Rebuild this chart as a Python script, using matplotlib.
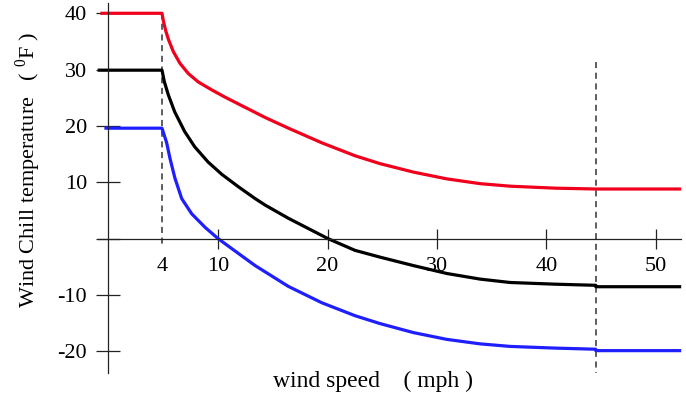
import matplotlib

matplotlib.use("Agg")
import matplotlib.pyplot as plt
import numpy as np

# values (wind speed in mph, wind chill in deg F)
red_speed = [-0.6, 4.0, 4.15, 4.4, 4.68, 5.21, 5.93, 6.82, 7.89, 9.33, 10.65, 12.17, 13.39, 14.3, 16.43,
             19.48, 22.52, 24.8, 27.85, 30.89, 33.94, 36.68, 40.78, 44.5, 52.3]
red_chill = [40.0, 40.0, 38.6, 36.9, 35.4, 33.2, 31.1, 29.3, 27.8, 26.4, 25.1, 23.6, 22.4, 21.5, 19.6,
             17.0, 14.7, 13.3, 11.8, 10.6, 9.75, 9.3, 8.95, 8.8, 8.8]

black_speed = [-0.8, 4.0, 4.25, 4.68, 5.36, 6.43, 7.5, 8.93, 10.35, 11.86, 13.39, 14.3, 16.43,
               20.03, 22.52, 24.8, 27.85, 30.89, 33.94, 36.68, 40.78, 44.5, 44.5, 52.3]
black_chill = [29.9, 29.9, 27.85, 25.5, 22.5, 19.0, 16.3, 13.6, 11.4, 9.2, 7.1, 5.95, 3.6,
               0.0, -2.1, -3.3, -4.8, -6.2, -7.2, -7.8, -8.1, -8.3, -8.55, -8.55]

blue_speed = [-0.3, 4.0, 4.5, 4.86, 5.39, 6.11, 7.18, 8.61, 10.0, 10.95, 13.39, 16.43, 19.48,
              22.52, 24.8, 27.85, 30.89, 33.94, 36.68, 40.78, 44.5, 44.5, 52.3]
blue_chill = [19.6, 19.6, 17.0, 14.2, 10.7, 7.1, 4.4, 2.0, 0.0, -1.35, -4.8, -8.5, -11.4,
              -13.7, -15.1, -16.7, -17.9, -18.7, -19.15, -19.45, -19.65, -19.9, -19.9]

x_ticks = [4, 10, 20, 30, 40, 50]
y_ticks = [-20, -10, 0, 10, 20, 30, 40]
y_tick_labels = ["-20", "-10", "", "10", "20", "30", "40"]

calm_speed = 4.0
cap_speed = 44.5

# the drawing's wind-speed axis is not evenly spaced: 0-4, 4-10 and 10-50 have their own spacing
speed_knots = np.array([0.0, 4.0, 10.0, 50.0])
axis_knots = np.array([0.0, 53.6, 109.6, 547.6])


def _piecewise(values, src, dst):
    values = np.asarray(values, dtype=float)
    out = np.interp(values, src, dst)
    low = values < src[0]
    high = values > src[-1]
    slope_low = (dst[1] - dst[0]) / (src[1] - src[0])
    slope_high = (dst[-1] - dst[-2]) / (src[-1] - src[-2])
    out[low] = dst[0] + (values[low] - src[0]) * slope_low
    out[high] = dst[-1] + (values[high] - src[-1]) * slope_high
    return out


def speed_forward(values):
    return _piecewise(values, speed_knots, axis_knots)


def speed_inverse(values):
    return _piecewise(values, axis_knots, speed_knots)


def main() -> None:
    plt.rcParams["font.family"] = "Liberation Serif"
    plt.rcParams["mathtext.fontset"] = "custom"
    plt.rcParams["mathtext.rm"] = "Liberation Serif"

    fig = plt.figure(figsize=(6.86, 3.94), dpi=100)
    ax = fig.add_axes([0, 0, 1, 1])
    ax.set_xscale("function", functions=(speed_forward, speed_inverse))
    ax.set_xlim(-8.09, 52.74)
    ax.set_ylim(-27.6, 42.36)

    for side in ("top", "right"):
        ax.spines[side].set_visible(False)
    ax.spines["left"].set_position(("data", 0))
    ax.spines["bottom"].set_position(("data", 0))
    ax.spines["left"].set_bounds(-23.8, 41.8)
    ax.spines["bottom"].set_bounds(-0.8, 52.3)
    for side in ("left", "bottom"):
        ax.spines[side].set_color("#222222")
        ax.spines[side].set_linewidth(0.9)

    ax.set_xticks(x_ticks)
    ax.set_xticklabels([str(t) for t in x_ticks])
    ax.xaxis.set_minor_locator(matplotlib.ticker.NullLocator())
    ax.set_yticks(y_ticks)
    ax.set_yticklabels(y_tick_labels)
    ax.tick_params(axis="x", direction="inout", length=14, width=0.9, pad=6.5, labelsize=16, color="#222222")
    ax.tick_params(axis="y", direction="inout", length=17, width=0.9, pad=6.8, labelsize=16, color="#222222")
    ax.xaxis.get_major_ticks()[0].tick1line.set_visible(False)

    ax.plot([calm_speed, calm_speed], [40, -1.4], color="#333333", linestyle=(0, (4, 3)), linewidth=1.1)
    ax.plot([cap_speed, cap_speed], [31.3, -23.8], color="#333333", linestyle=(0, (4, 3)), linewidth=1.1)

    ax.plot(red_speed, red_chill, color="#f0001c", linewidth=2.3, solid_capstyle="butt", solid_joinstyle="round")
    ax.plot(black_speed, black_chill, color="black", linewidth=2.3, solid_capstyle="butt", solid_joinstyle="round")
    ax.plot(blue_speed, blue_chill, color="#1e1eff", linewidth=2.3, solid_capstyle="butt", solid_joinstyle="round")

    fig.text(0.041, 0.569, "Wind Chill temperature   ( $^{0}$F )", rotation=90, ha="center", va="center", fontsize=16)
    fig.text(0.544, 0.033, "wind speed    ( mph )", ha="center", va="center", fontsize=17)

    fig.savefig("out.png", dpi=100)
    plt.close(fig)


if __name__ == "__main__":
    main()
